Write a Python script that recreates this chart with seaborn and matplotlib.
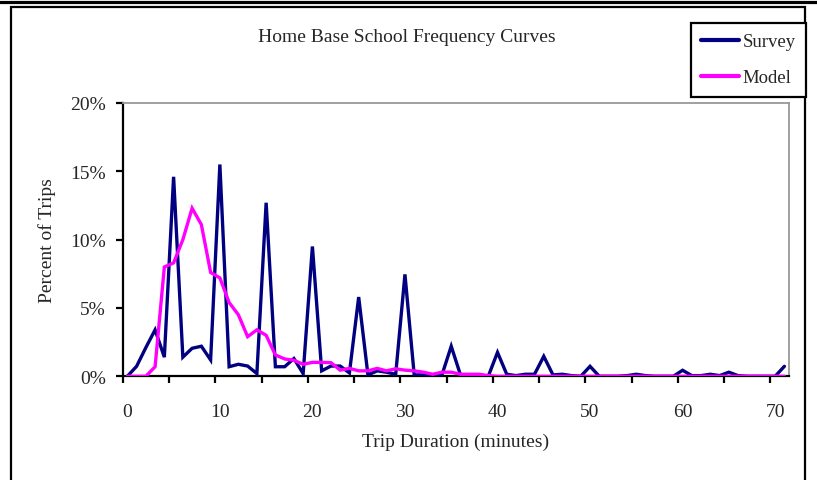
import numpy as np
import pandas as pd
import seaborn as sns
import matplotlib
matplotlib.use("Agg")
import matplotlib.pyplot as plt
from matplotlib.lines import Line2D
from matplotlib.ticker import PercentFormatter, FixedLocator

# Trip duration in minutes (one category per minute)
minutes = list(range(72))

# Share of trips (%) by duration
survey = [0.0, 0.73, 2.1, 3.4, 1.4, 14.6, 1.4, 2.05, 2.2, 1.2,
          15.5, 0.7, 0.88, 0.75, 0.2, 12.7, 0.7, 0.7, 1.3, 0.2,
          9.5, 0.4, 0.75, 0.75, 0.25, 5.8, 0.1, 0.4, 0.3, 0.15,
          7.46, 0.1, 0.1, 0.05, 0.1, 2.2, 0.1, 0.05, 0.0, 0.0,
          1.75, 0.15, 0.05, 0.15, 0.15, 1.46, 0.1, 0.15, 0.05, 0.0,
          0.73, 0.0, 0.0, 0.0, 0.05, 0.15, 0.05, 0.0, 0.0, 0.0,
          0.44, 0.05, 0.05, 0.15, 0.05, 0.3, 0.05, 0.0, 0.0, 0.0,
          0.0, 0.73]
model = [0.0, 0.0, 0.0, 0.7, 8.0, 8.3, 10.0, 12.3, 11.1, 7.6,
         7.2, 5.4, 4.5, 2.9, 3.4, 3.0, 1.56, 1.27, 1.17, 0.88,
         1.02, 1.02, 1.0, 0.45, 0.58, 0.4, 0.4, 0.58, 0.4, 0.55,
         0.45, 0.4, 0.3, 0.15, 0.3, 0.3, 0.15, 0.15, 0.15, 0.05,
         0.0, 0.0, 0.0, 0.0, 0.0, 0.0, 0.0, 0.0, 0.0, 0.0,
         0.0, 0.0, 0.0, 0.0, 0.0, 0.0, 0.0, 0.0, 0.0, 0.0,
         0.0, 0.0, 0.0, 0.0, 0.0, 0.0, 0.0, 0.0, 0.0, 0.0,
         0.0, 0.0]

series_names = ["Survey", "Model"]
series_colors = {"Survey": "#000080", "Model": "#FF00FF"}
x_labels = [0, 10, 20, 30, 40, 50, 60, 70]
y_ticks = [0, 5, 10, 15, 20]

df = pd.concat([
    pd.DataFrame({"Minutes": minutes, "Percent": survey, "Series": "Survey"}),
    pd.DataFrame({"Minutes": minutes, "Percent": model, "Series": "Model"}),
], ignore_index=True)

sns.set_style("white")
plt.rcParams["font.family"] = ["Liberation Serif", "DejaVu Serif"]

W, H = 817, 481
fig = plt.figure(figsize=(W / 100, H / 100), dpi=100)
ax = fig.add_axes([122.7 / W, 1 - 377.3 / H, (789 - 122.7) / W, (377.3 - 104) / H])

sns.lineplot(data=df, x="Minutes", y="Percent", hue="Series",
             hue_order=series_names, palette=series_colors,
             linewidth=2.4, ax=ax, legend=False, zorder=3)
for line in ax.get_lines():
    line.set_solid_joinstyle("miter")

ax.set_xlim(-0.5, 71.5)
ax.set_ylim(0, 20)

# Tick marks sit on category boundaries every 5 minutes; labels every 10
ax.xaxis.set_major_locator(FixedLocator(np.arange(-0.5, 70, 5)))
ax.xaxis.set_minor_locator(FixedLocator(x_labels))
ax.set_xticklabels([], minor=False)
ax.set_xticklabels([str(v) for v in x_labels], minor=True)
ax.tick_params(axis="x", which="major", direction="out", length=5, width=1.6,
               color="black", bottom=True)
ax.tick_params(axis="x", which="minor", length=0, pad=19, labelsize=14)

ax.yaxis.set_major_locator(FixedLocator(y_ticks))
ax.yaxis.set_major_formatter(PercentFormatter(xmax=100, decimals=0))
ax.tick_params(axis="y", which="major", direction="out", length=5, width=1.6,
               color="black", left=True, pad=7, labelsize=14)

for side in ["left", "bottom"]:
    ax.spines[side].set_color("black")
    ax.spines[side].set_linewidth(1.6)
for side in ["top", "right"]:
    ax.spines[side].set_color("#999999")
    ax.spines[side].set_linewidth(1.3)
ax.grid(False)

ax.set_xlabel("Trip Duration (minutes)", fontsize=14)
ax.xaxis.set_label_coords(0.5, -0.205)
ax.xaxis.label.set_va("top")
ax.set_ylabel("Percent of Trips", fontsize=14)
ax.yaxis.set_label_coords(-0.1, 0.5)

fig.text(407 / W, 1 - 38 / H, "Home Base School Frequency Curves",
         ha="center", va="center", fontsize=14)

handles = [Line2D([], [], color=series_colors[n], linewidth=3) for n in series_names]
leg = fig.legend(handles, series_names, loc="upper left",
                 bbox_to_anchor=(691 / W, 1 - 24 / H), bbox_transform=fig.transFigure,
                 borderaxespad=0, fontsize=13.5, handlelength=2.0, handletextpad=0.2,
                 labelspacing=1.0, borderpad=0.55, fancybox=False, framealpha=1,
                 edgecolor="black")
leg.get_frame().set_linewidth(1.6)

# Chart-area frame
fig.add_artist(Line2D([0, 1], [1 - 2.5 / H, 1 - 2.5 / H], color="black",
                      linewidth=2.3, transform=fig.transFigure))
fig.add_artist(Line2D([11 / W, 11 / W, 804.5 / W, 804.5 / W],
                      [0, 1 - 8 / H, 1 - 8 / H, 0], color="black",
                      linewidth=1.6, transform=fig.transFigure,
                      solid_joinstyle="miter"))

fig.savefig("out.png", dpi=100)
